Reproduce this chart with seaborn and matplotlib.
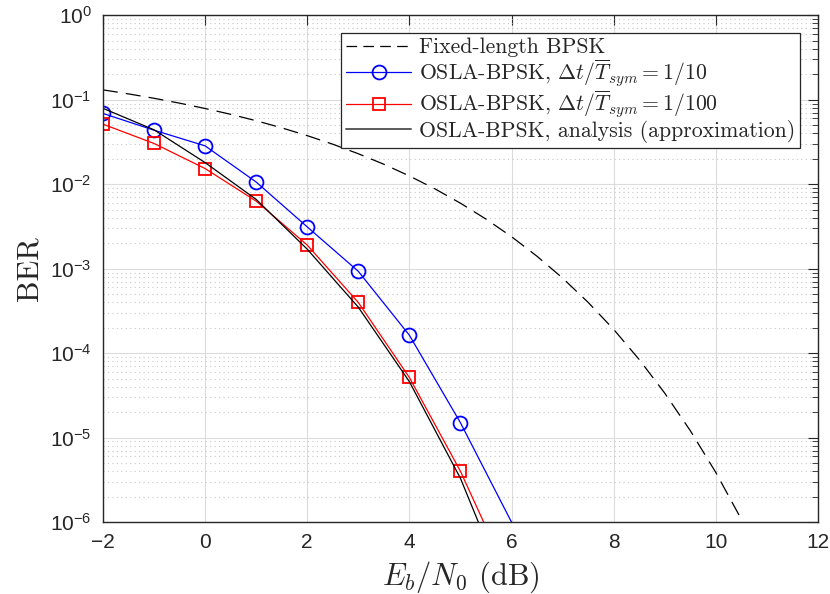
import numpy as np
import pandas as pd
import seaborn as sns
import matplotlib
matplotlib.use("Agg")
import matplotlib.pyplot as plt
from matplotlib.ticker import LogLocator, FixedLocator, NullFormatter

# Eb/N0 (dB) grid for the simulated / analytic OSLA curves
snr_osla = [-2, -1, 0, 1, 2, 3, 4, 5, 6]
ber_dt10 = [0.0687, 0.0435, 0.0284, 0.0106, 0.00312, 9.3e-4, 1.63e-4, 1.5e-5, 1.0e-6]
ber_dt100 = [0.0513, 0.0303, 0.0153, 0.0063, 0.0019, 3.98e-4, 5.15e-5, 4.0e-6, 1.9e-7]
ber_analysis = [0.079, 0.044, 0.018, 0.0066, 0.0017, 3.5e-4, 4.6e-5, 3.3e-6, 1.1e-7]

# fixed-length BPSK reference curve
snr_bpsk = [-2, -1.5, -1, -0.5, 0, 0.5, 1, 1.5, 2, 2.5, 3, 3.5, 4, 4.5, 5, 5.5,
            6, 6.5, 7, 7.5, 8, 8.5, 9, 9.5, 10, 10.5, 11]
ber_bpsk = [0.1306, 0.1170, 0.1038, 0.0909, 0.0786, 0.0671, 0.0563, 0.0464, 0.0375,
            0.0297, 0.0229, 0.0172, 0.0125, 0.0088, 0.00595, 0.00386, 0.00239,
            0.0014, 7.73e-4, 3.99e-4, 1.91e-4, 8.4e-5, 3.36e-5, 1.21e-5, 3.87e-6,
            1.08e-6, 2.61e-7]

labels = ['Fixed-length BPSK',
          r'OSLA-BPSK, $\Delta t/\overline{T}_{sym}=1/10$',
          r'OSLA-BPSK, $\Delta t/\overline{T}_{sym}=1/100$',
          'OSLA-BPSK, analysis (approximation)']

sns.set_style("white")
plt.rcParams['font.family'] = ['Liberation Sans', 'DejaVu Sans']
plt.rcParams['mathtext.fontset'] = 'custom'
plt.rcParams['mathtext.rm'] = 'Liberation Sans'
plt.rcParams['mathtext.it'] = 'Liberation Sans:italic'

fig = plt.figure(figsize=(8.3, 5.94), dpi=100)
ax = fig.add_axes([0.124, 0.121, 0.8615, 0.8535])

bpsk_df = pd.DataFrame({'snr': snr_bpsk, 'ber': ber_bpsk})
osla_df = pd.DataFrame({'snr': snr_osla, 'dt10': ber_dt10, 'dt100': ber_dt100, 'ana': ber_analysis})

sns.lineplot(data=bpsk_df, x='snr', y='ber', ax=ax, color='black', lw=0.9,
             label=labels[0])
ax.lines[-1].set_dashes([12, 6.5])
sns.lineplot(data=osla_df, x='snr', y='dt10', ax=ax, color='#0000ff', lw=0.9,
             marker='o', markersize=10, markerfacecolor='none', markeredgecolor='#0000ff',
             markeredgewidth=1.3, markevery=list(range(8)), label=labels[1])
sns.lineplot(data=osla_df, x='snr', y='dt100', ax=ax, color='#ff0000', lw=0.9,
             marker='s', markersize=9, markerfacecolor='none', markeredgecolor='#ff0000',
             markeredgewidth=1.3, markevery=list(range(8)), label=labels[2])
sns.lineplot(data=osla_df, x='snr', y='ana', ax=ax, color='black', lw=0.9,
             label=labels[3])

ax.set_yscale('log')
ax.set_xlim(-2, 12)
ax.set_ylim(1e-6, 1)
ax.xaxis.set_major_locator(FixedLocator(range(-2, 13, 2)))
ax.yaxis.set_major_locator(LogLocator(base=10, numticks=10))
ax.yaxis.set_minor_locator(LogLocator(base=10, subs=np.arange(2, 10), numticks=10))
ax.yaxis.set_minor_formatter(NullFormatter())

ax.grid(True, which='major', color='#dcdcdc', lw=0.8, ls='-')
ax.grid(True, which='minor', axis='y', color='#c8c8c8', lw=0.8, ls=(0, (1, 3)))
ax.set_axisbelow(True)

for s in ax.spines.values():
    s.set_color('#262626')
    s.set_linewidth(1.0)
ax.tick_params(which='major', direction='in', length=7, width=0.8, top=True, right=True,
               labelsize=15, colors='#262626', pad=8)
ax.tick_params(which='minor', direction='in', length=4, width=0.6, top=False, right=True,
               colors='#262626')

ax.set_xlabel(r'$E_b/N_0$ (dB)', fontsize=22, family='cmr10', math_fontfamily='cm', labelpad=5)
ax.set_ylabel('BER', fontsize=22, family='cmr10', labelpad=5)

leg = ax.legend(loc='upper right', bbox_to_anchor=(0.975, 0.9645), fontsize=15.7,
                frameon=True, fancybox=False, edgecolor='#262626', framealpha=1,
                handlelength=3.0, handletextpad=0.35, borderpad=0.22, labelspacing=0.0,
                borderaxespad=0)
leg.get_frame().set_linewidth(0.9)
for t in leg.get_texts():
    t.set_family('cmr10')
    t.set_math_fontfamily('cm')
leg_lines = leg.get_lines()
leg_lines[0].set_dashes([8.5, 5])
leg_lines[3].set_color('#5a5a5a')
leg_lines[3].set_linewidth(1.4)

fig.savefig('out.png', dpi=100)
